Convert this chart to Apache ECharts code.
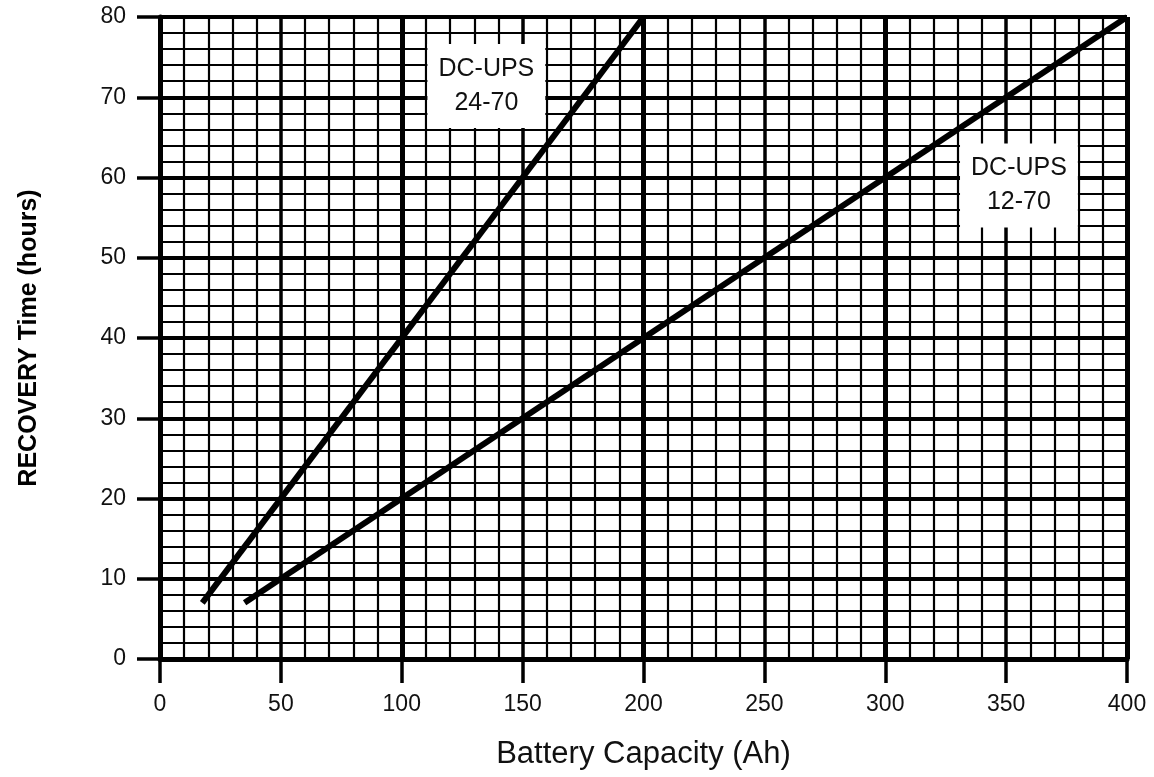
<!DOCTYPE html>
<html>
<head>
<meta charset="utf-8">
<script src="https://cdn.jsdelivr.net/npm/echarts@6/dist/echarts.min.js"></script>
<style>html,body{margin:0;padding:0;background:#fff;}#chart{width:1154px;height:777px;}</style>
</head>
<body>
<div id="chart"></div>
<script>
// Data
const capacity2470 = [17.5, 200];
const recovery2470 = [7, 80];
const capacity1270 = [35, 400];
const recovery1270 = [7, 80];
const xTicks = [0, 50, 100, 150, 200, 250, 300, 350, 400];
const yTicks = [0, 10, 20, 30, 40, 50, 60, 70, 80];
const labelNames = ['DC-UPS\n24-70', 'DC-UPS\n12-70'];
const labelX = [135, 355.3];
const labelY = [71.4, 59];

const font = 'Liberation Sans, Arial, sans-serif';
const chart = echarts.init(document.getElementById('chart'));
const grid = {left: 160, right: 27, top: 17, bottom: 118};

chart.setOption({
  backgroundColor: '#fff',
  animation: false,
  grid: grid,
  xAxis: [{
    type: 'value', min: xTicks[0], max: xTicks[xTicks.length - 1], interval: 50,
    name: 'Battery Capacity (Ah)', nameLocation: 'middle', nameGap: 80,
    nameTextStyle: {fontFamily: font, fontSize: 31, color: '#111'},
    axisLine: {show: true, lineStyle: {color: '#000', width: 5}},
    axisTick: {show: true, length: 24, lineStyle: {color: '#000', width: 3.5}},
    axisLabel: {margin: 34, fontFamily: font, fontSize: 23, color: '#111'},
    splitLine: {show: true, lineStyle: {color: '#000', width: 3.5}},
    minorTick: {show: false, splitNumber: 5},
    minorSplitLine: {show: true, lineStyle: {color: '#000', width: 2.2}}
  }, {
    type: 'value', min: 0, max: 400, interval: 100,
    axisLine: {show: false}, axisTick: {show: false}, axisLabel: {show: false},
    splitLine: {show: true, lineStyle: {color: '#000', width: 5}}
  }],
  yAxis: [{
    type: 'value', min: yTicks[0], max: yTicks[yTicks.length - 1], interval: 10,
    name: 'RECOVERY Time (hours)', nameLocation: 'middle', nameGap: 118,
    nameTextStyle: {fontFamily: font, fontSize: 25, fontWeight: 'bold', color: '#000'},
    axisLine: {show: true, lineStyle: {color: '#000', width: 5}},
    axisTick: {show: true, length: 23, lineStyle: {color: '#000', width: 3.5}},
    axisLabel: {margin: 34, fontFamily: font, fontSize: 23, color: '#111'},
    splitLine: {show: true, lineStyle: {color: '#000', width: 4}},
    minorTick: {show: false, splitNumber: 5},
    minorSplitLine: {show: true, lineStyle: {color: '#000', width: 2.2}}
  }],
  series: [{
    type: 'line', name: 'DC-UPS 24-70', symbol: 'none',
    lineStyle: {color: '#000', width: 6},
    data: capacity2470.map((x, i) => [x, recovery2470[i]]), z: 5
  }, {
    type: 'line', name: 'DC-UPS 12-70', symbol: 'none',
    lineStyle: {color: '#000', width: 6},
    data: capacity1270.map((x, i) => [x, recovery1270[i]]), z: 5
  }, {
    type: 'scatter', symbolSize: 1, z: 10,
    itemStyle: {opacity: 0},
    data: labelNames.map((n, i) => ({name: n, value: [labelX[i], labelY[i]]})),
    label: {
      show: true, position: 'inside', formatter: p => p.name, opacity: 1,
      fontFamily: font, fontSize: 25, lineHeight: 34, color: '#111',
      backgroundColor: '#fff', padding: [8, 11], align: 'center', verticalAlign: 'middle'
    },
    emphasis: {disabled: true}
  }]
});
</script>
</body>
</html>
